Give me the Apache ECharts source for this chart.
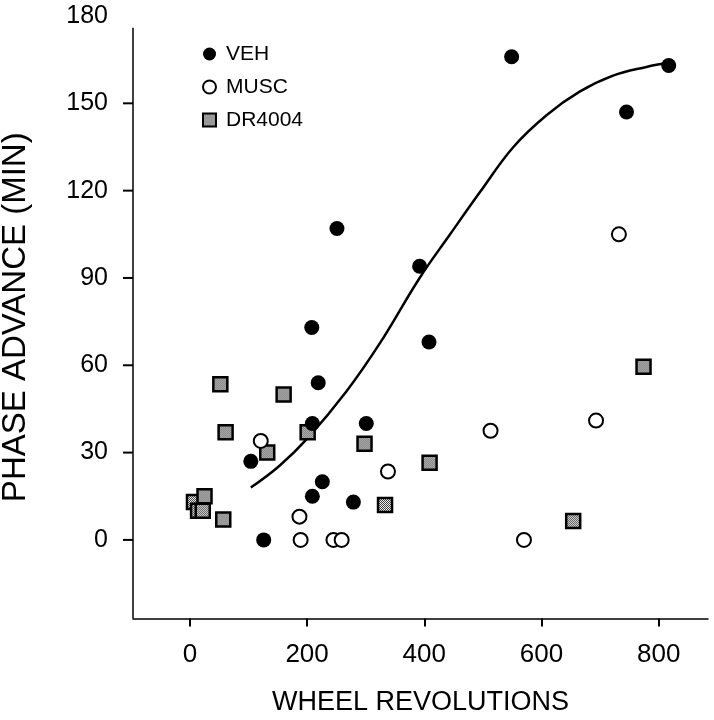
<!DOCTYPE html>
<html><head><meta charset="utf-8">
<script src="https://cdn.jsdelivr.net/npm/echarts@6/dist/echarts.min.js"></script>
<style>html,body{margin:0;padding:0;background:#fff}#c{width:714px;height:720px}</style>
</head><body><div id="c"></div>
<script>
const seriesNames = ['VEH', 'MUSC', 'DR4004'];
const vehPoints = [[104,27],[126,0],[208,73],[209,40],[209,15],[219,54],[226,20],[251,107],[279,13],[301,40],[392,94],[408,68],[549,166],[745,147],[817,163]];
const muscPoints = [[121,34],[187,8],[189,0],[245,0],[259,0],[338,23.5],[513,37.5],[570,0],[693,41],[732,105]];
const drPoints = [[7,13],[14,10],[22,10],[25,15],[52,53.5],[57,7],[61,37],[132,30],[160,50],[201,37],[298,33],[333,12],[409,26.5],[654,6.5],[774,59.5]];
const fitCurve = [[104,18],[153,25.5],[201,35],[267,51],[324,67.5],[392,90],[444,105],[495,119.5],[552,135],[609,146],[665,154],[722,159.5],[779,162.5],[817,164]];
const xTicks = [0,200,400,600,800];
const yTickMarks = [0,30,60,90,120,150];
const yTickLabels = [0,30,60,90,120,150,180];
const xRange = [-97, 884];
const yRange = [-27, 180];
const yAxisLineTop = 176;

function checkerPattern(){
  const c = document.createElement('canvas');
  c.width = 2; c.height = 2;
  const g = c.getContext('2d');
  g.fillStyle = '#ffffff'; g.fillRect(0,0,2,2);
  g.fillStyle = '#333333'; g.fillRect(0,0,1,1); g.fillRect(1,1,1,1);
  return c;
}
const FONT = 'Liberation Sans, Arial, sans-serif';
const pat = checkerPattern();
const chart = echarts.init(document.getElementById('c'), null, {renderer:'canvas'});
chart.setOption({
  animation: false,
  backgroundColor: '#fff',
  grid: {left: 133, right: 6, top: 16, bottom: 101.5, outerBoundsMode: 'none', containLabel: false},
  legend: {
    data: seriesNames, orient: 'vertical', left: 197, top: 38,
    itemWidth: 13, itemHeight: 13, itemGap: 11,
    textStyle: {fontFamily: FONT, fontSize: 21, color: '#000', lineHeight: 22, padding: [0,0,0,5]}
  },
  xAxis: {
    type: 'value', min: xRange[0], max: xRange[1],
    name: 'WHEEL REVOLUTIONS', nameLocation: 'middle', nameGap: 71,
    nameTextStyle: {fontFamily: FONT, fontSize: 27, color: '#000'},
    splitLine: {show: false},
    axisLine: {show: true, onZero: false, lineStyle: {color: '#000', width: 1.5}},
    axisTick: {show: true, length: 8, customValues: xTicks, lineStyle: {color: '#000', width: 2}},
    axisLabel: {customValues: xTicks, margin: 23, fontFamily: FONT, fontSize: 26, color: '#000'}
  },
  yAxis: {
    type: 'value', min: yRange[0], max: yRange[1],
    name: 'PHASE ADVANCE (MIN)', nameLocation: 'middle', nameGap: 101,
    nameTextStyle: {fontFamily: FONT, fontSize: 33, color: '#000'},
    splitLine: {show: false},
    axisLine: {show: false, onZero: false},
    axisTick: {show: false},
    axisLabel: {customValues: yTickLabels, margin: 25, fontFamily: FONT, fontSize: 25, color: '#000'}
  },
  series: [
    {
      name: 'fit', type: 'line', data: fitCurve, smooth: 0.4, symbol: 'none', z: 1,
      lineStyle: {color: '#000', width: 2.5}
    },
    {
      name: 'VEH', type: 'scatter', data: vehPoints, symbol: 'circle', symbolSize: 15, z: 3,
      itemStyle: {color: '#000', opacity: 1}
    },
    {
      name: 'MUSC', type: 'scatter', data: muscPoints, symbol: 'circle', symbolSize: 14, z: 3,
      itemStyle: {color: '#fff', borderColor: '#000', borderWidth: 2, opacity: 1}
    },
    {
      name: 'DR4004', type: 'scatter', data: drPoints, symbol: 'rect', symbolSize: 14, z: 2,
      itemStyle: {color: {image: pat, repeat: 'repeat', scaleX: 1/7, scaleY: 1/7}, borderColor: '#000', borderWidth: 2.5, opacity: 1}
    }
  ]
});
// y-axis line and ticks placed through the chart's own coordinate conversion
const axisBottom = chart.convertToPixel({gridIndex: 0}, [xRange[0], yRange[0]]);
const axisTop = chart.convertToPixel({gridIndex: 0}, [xRange[0], yAxisLineTop]);
const axisGraphics = [{
  type: 'line', silent: true, z: 10,
  shape: {x1: axisBottom[0], y1: axisBottom[1], x2: axisTop[0], y2: axisTop[1]},
  style: {stroke: '#000', lineWidth: 1.5}
}];
yTickMarks.forEach(v => {
  const p = chart.convertToPixel({gridIndex: 0}, [xRange[0], v]);
  axisGraphics.push({
    type: 'line', silent: true, z: 10,
    shape: {x1: p[0] - 10, y1: p[1], x2: p[0], y2: p[1]},
    style: {stroke: '#000', lineWidth: 2}
  });
});
chart.setOption({graphic: axisGraphics});
</script></body></html>
